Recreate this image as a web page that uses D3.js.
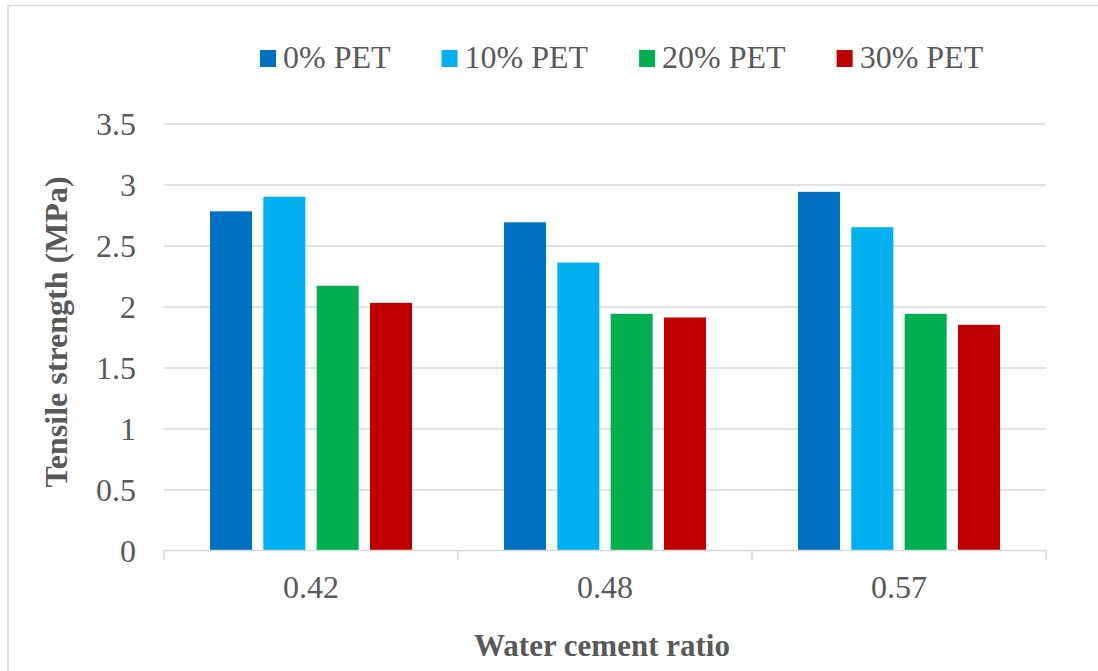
<!DOCTYPE html>
<html>
<head>
<meta charset="utf-8">
<script src="https://cdn.jsdelivr.net/npm/d3@7/dist/d3.min.js"></script>
<style>
  html, body { margin: 0; padding: 0; background: #fff; }
  svg { display: block; }
  text { font-family: "Liberation Serif", "Times New Roman", serif; }
</style>
</head>
<body>
<svg id="chart" width="1098" height="671"></svg>
<script>
const categories = ["0.42", "0.48", "0.57"];
const seriesNames = ["0% PET", "10% PET", "20% PET", "30% PET"];
const pet0  = [2.78, 2.69, 2.94];
const pet10 = [2.90, 2.36, 2.65];
const pet20 = [2.17, 1.94, 1.94];
const pet30 = [2.03, 1.91, 1.85];
const yTicks = [0, 0.5, 1, 1.5, 2, 2.5, 3, 3.5];
const colors = ["#0070C0", "#00B0F0", "#00B050", "#C00000"];

const seriesValues = [pet0, pet10, pet20, pet30];

const svg = d3.select("#chart");
const W = 1098, H = 671;

// outer border
svg.append("rect")
  .attr("x", 8).attr("y", 5.5)
  .attr("width", W + 10).attr("height", H + 10)
  .attr("fill", "none").attr("stroke", "#d9d9d9").attr("stroke-width", 1.5);

const plot = { left: 164, right: 1046, top: 123.5, bottom: 550.5 };

const x = d3.scaleBand().domain(categories).range([plot.left, plot.right]).padding(0);
const y = d3.scaleLinear().domain([0, 3.5]).range([plot.bottom, plot.top]);

const outerPad = 46;
const xs = d3.scaleBand().domain(seriesNames)
  .range([outerPad, x.bandwidth() - outerPad])
  .paddingInner(0.212).paddingOuter(0);

// gridlines
const grid = svg.append("g")
  .attr("transform", `translate(${plot.left},0)`)
  .call(d3.axisLeft(y).tickValues(yTicks.filter(d => d > 0)).tickSize(-(plot.right - plot.left)).tickFormat(""));
grid.select(".domain").remove();
grid.selectAll(".tick line").attr("stroke", "#d9d9d9").attr("stroke-width", 1.5);

// y tick labels
const yAxis = svg.append("g")
  .attr("transform", `translate(${plot.left},0)`)
  .call(d3.axisLeft(y).tickValues(yTicks).tickSize(0).tickPadding(28).tickFormat(d3.format("")));
yAxis.select(".domain").remove();
yAxis.selectAll(".tick text")
  .attr("fill", "#595959")
  .style("font-size", "32px")
  .style("font-family", "'Liberation Serif', serif")
  .attr("dy", "0.34em");

// bars
const groups = svg.append("g").selectAll("g")
  .data(categories)
  .join("g")
  .attr("transform", d => `translate(${x(d)},0)`);

groups.selectAll("rect")
  .data((c, ci) => seriesNames.map((s, si) => ({ s, si, v: seriesValues[si][ci] })))
  .join("rect")
  .attr("x", d => xs(d.s))
  .attr("width", xs.bandwidth())
  .attr("y", d => y(d.v))
  .attr("height", d => y(0) - y(d.v))
  .attr("fill", d => colors[d.si]);

// x axis
const xAxis = svg.append("g")
  .attr("transform", `translate(0,${plot.bottom})`)
  .call(d3.axisBottom(x).tickSize(0).tickPadding(25));
xAxis.select(".domain").attr("stroke", "#d9d9d9").attr("stroke-width", 1.5)
  .attr("d", `M${plot.left},0H${plot.right}`);
xAxis.selectAll(".tick text")
  .attr("fill", "#595959")
  .style("font-size", "32px")
  .style("font-family", "'Liberation Serif', serif");
// category boundary ticks
const bounds = categories.map(c => x(c)).concat([x(categories[categories.length - 1]) + x.bandwidth()]);
xAxis.selectAll(".bound")
  .data(bounds)
  .join("line")
  .attr("class", "bound")
  .attr("x1", d => d).attr("x2", d => d)
  .attr("y1", 0).attr("y2", 9)
  .attr("stroke", "#d9d9d9").attr("stroke-width", 1.5);

// axis titles
svg.append("text")
  .attr("transform", `translate(67,332) rotate(-90)`)
  .attr("text-anchor", "middle")
  .attr("fill", "#595959")
  .style("font-size", "32px")
  .style("font-weight", "bold")
  .text("Tensile strength (MPa)");

svg.append("text")
  .attr("x", 602).attr("y", 656)
  .attr("text-anchor", "middle")
  .attr("fill", "#595959")
  .style("font-size", "31px")
  .style("font-weight", "bold")
  .text("Water cement ratio");

// legend
const legend = svg.append("g").attr("transform", "translate(260,0)");
let lx = 0;
seriesNames.forEach((name, i) => {
  const g = legend.append("g").attr("transform", `translate(${lx},0)`);
  g.append("rect").attr("x", 0).attr("y", 50).attr("width", 16).attr("height", 17).attr("fill", colors[i]);
  const t = g.append("text").attr("x", 23).attr("y", 68)
    .attr("fill", "#595959")
    .style("font-size", "32px")
    .text(name);
  const w = t.node().getComputedTextLength();
  lx += 23 + w + 51;
});
</script>
</body>
</html>
